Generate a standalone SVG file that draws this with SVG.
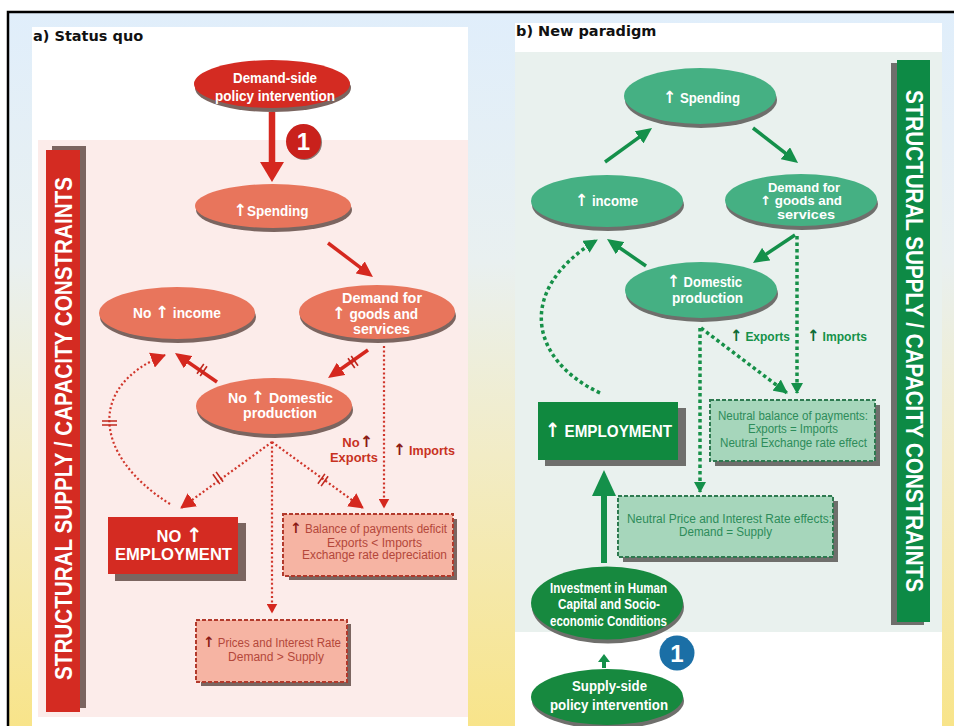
<svg xmlns="http://www.w3.org/2000/svg" width="954" height="726" viewBox="0 0 954 726">
<defs>
<linearGradient id="bg" x1="0" y1="0" x2="0" y2="1">
<stop offset="0" stop-color="#e0eefb"/>
<stop offset="0.35" stop-color="#e9f0f0"/>
<stop offset="0.62" stop-color="#f2ecc6"/>
<stop offset="1" stop-color="#f8e48a"/>
</linearGradient>
<marker id="mBigR" markerUnits="userSpaceOnUse" markerWidth="20" markerHeight="24" refX="2" refY="12" orient="auto"><path d="M0,0 L20,12 L0,24 z" fill="#d5281f"/></marker>
<marker id="mBigG" markerUnits="userSpaceOnUse" markerWidth="26" markerHeight="24" refX="2" refY="12" orient="auto"><path d="M0,0 L26,12 L0,24 z" fill="#14904a"/></marker>
<marker id="mSmG" markerUnits="userSpaceOnUse" markerWidth="8" markerHeight="12" refX="2" refY="6" orient="auto"><path d="M0,0 L8,6 L0,12 z" fill="#14904a"/></marker>
<marker id="mSR" markerUnits="userSpaceOnUse" markerWidth="16" markerHeight="15" refX="2" refY="7.5" orient="auto"><path d="M0,0 L16,7.5 L0,15 z" fill="#d5281f"/></marker>
<marker id="mSG" markerUnits="userSpaceOnUse" markerWidth="16" markerHeight="15" refX="2" refY="7.5" orient="auto"><path d="M0,0 L16,7.5 L0,15 z" fill="#14904a"/></marker>
<marker id="mDRb" markerUnits="userSpaceOnUse" markerWidth="15" markerHeight="16" refX="14" refY="8" orient="auto"><path d="M0,0 L15,8 L0,16 z" fill="#d5281f"/></marker>
<marker id="mDRs" markerUnits="userSpaceOnUse" markerWidth="10" markerHeight="11" refX="9.5" refY="5.5" orient="auto"><path d="M0,0 L10,5.5 L0,11 z" fill="#d5281f"/></marker>
<marker id="mDGb" markerUnits="userSpaceOnUse" markerWidth="14" markerHeight="14" refX="13" refY="7" orient="auto"><path d="M0,0 L14,7 L0,14 z" fill="#14904a"/></marker>
<marker id="mDGs" markerUnits="userSpaceOnUse" markerWidth="11" markerHeight="12" refX="10" refY="6" orient="auto"><path d="M0,0 L11,6 L0,12 z" fill="#14904a"/></marker>
</defs>
<style>
.nt{font-family:"Liberation Sans",Arial,sans-serif;font-weight:bold;font-size:14px;fill:#fff;text-anchor:middle}
.nt13{font-size:12.5px}
.et{font-family:"Liberation Sans",Arial,sans-serif;font-weight:bold;font-size:16.5px;fill:#fff;text-anchor:middle}
.bt{font-family:"Liberation Sans",Arial,sans-serif;font-size:12px;text-anchor:middle}
.rb{fill:#b4473a}
.gb{fill:#2d8c5a}
.lr{font-family:"Liberation Sans",Arial,sans-serif;font-weight:bold;font-size:13px;fill:#c8321f}
.lg{font-family:"Liberation Sans",Arial,sans-serif;font-weight:bold;font-size:13px;fill:#15924a}
.up{font-family:"DejaVu Sans",sans-serif;font-weight:bold;font-size:1.2em}
.ups{font-family:"DejaVu Sans",sans-serif;font-weight:bold;font-size:1em}
.ar{fill:#8b1a14}
.ag{fill:#0c6b35}
.title{font-family:"DejaVu Sans",Verdana,sans-serif;font-weight:bold;font-size:14.5px;fill:#111}
.vt{font-family:"Liberation Sans",Arial,sans-serif;font-weight:bold;font-size:23px;fill:#fff;text-anchor:middle}
.shL{fill:#7b6560}
.shR{fill:#6f6f6c}
.eR{fill:#e8755c}
.eRd{fill:#d42b22}
.eG{fill:#45b083}
.eGd{fill:#17893f}
.sr{stroke:#d5281f;stroke-width:3.5;fill:none}
.sg{stroke:#14904a;stroke-width:3.5;fill:none}
.dr{stroke:#d0362b;stroke-width:2.2;stroke-dasharray:2 2.4;fill:none}
.dg{stroke:#169048;stroke-width:3.5;stroke-dasharray:3.5 3;fill:none}
.hr{stroke:#c0281e;stroke-width:1.6;fill:none}
.boxR{fill:#f6b4a3;stroke:#b23a2c;stroke-width:2;stroke-dasharray:4 2}
.boxG{fill:#a6d6bb;stroke:#2e7a50;stroke-width:2;stroke-dasharray:4 2}
</style>

<!-- background -->
<rect x="0" y="0" width="954" height="726" fill="#fff"/>
<rect x="8" y="12" width="946" height="714" fill="url(#bg)"/>
<path d="M8,726 L8,12 L954,12" fill="none" stroke="#000" stroke-width="2.5"/>

<!-- left panel -->
<rect x="32" y="27" width="436" height="699" fill="#fff"/>
<rect x="38" y="140" width="430" height="577" fill="#fcecea"/>
<text class="title" x="33" y="40.5">a) Status quo</text>
<g id="constraintsLeft">
<rect x="52" y="146" width="34" height="562" fill="#7b6560"/>
<rect x="46" y="150" width="34" height="562" fill="#d42b22"/>
<text class="vt" transform="translate(71.5,428.5) rotate(-90)" textLength="503" lengthAdjust="spacingAndGlyphs">STRUCTURAL SUPPLY / CAPACITY CONSTRAINTS</text>
</g>

<!-- right panel -->
<rect x="515" y="23" width="427" height="703" fill="#fff"/>
<rect x="515" y="52" width="427" height="580" fill="#e9f1ee"/>
<text class="title" x="516" y="36">b) New paradigm</text>
<g id="constraintsRight">
<rect x="891" y="63" width="33" height="562" fill="#6f6f6c"/>
<rect x="897" y="60" width="33" height="562" fill="#0d8a45"/>
<text class="vt" transform="translate(905.5,341) rotate(90)" textLength="502" lengthAdjust="spacingAndGlyphs">STRUCTURAL SUPPLY / CAPACITY CONSTRAINTS</text>
</g>

<!-- connectors -->
<g id="connectors">
<!-- left -->
<line class="sr" x1="272" y1="112" x2="272" y2="164" style="stroke-width:6.5" marker-end="url(#mBigR)"/>
<line class="sr" x1="328" y1="243" x2="361.8" y2="268.6" marker-end="url(#mSR)"/>
<line class="sr" x1="368" y1="350" x2="339.5" y2="370" marker-end="url(#mSR)"/>
<line class="sr" x1="217" y1="382" x2="186.5" y2="361" marker-end="url(#mSR)"/>
<path class="dr" d="M170,504 C92,455 88,385 165,355" marker-end="url(#mDRb)"/>
<path class="dr" d="M272,442 L181,508" marker-end="url(#mDRb)"/>
<path class="dr" d="M272,442 L272,613" marker-end="url(#mDRs)"/>
<path class="dr" d="M272,442 L363,508" marker-end="url(#mDRb)"/>
<path class="dr" d="M384,346 L384,508" marker-end="url(#mDRs)"/>
<g class="hr">
<path d="M351.2,356 L358,365.8 M348,358.2 L354.8,368"/>
<path d="M200.2,376 L207,366.2 M197,373.8 L203.8,364"/>
<path d="M102,421 L117,421 M102,425 L117,425"/>
<path d="M216.1,471.9 L223.1,481.7 M212.9,474.3 L219.9,484.1"/>
<path d="M324.9,473.9 L317.9,483.7 M328.1,476.3 L321.1,486.1"/>
</g>
<!-- right -->
<line class="sg" x1="605" y1="162" x2="640.7" y2="136.2" marker-end="url(#mSG)"/>
<line class="sg" x1="753" y1="128" x2="787" y2="154.4" marker-end="url(#mSG)"/>
<line class="sg" x1="795" y1="235" x2="764.6" y2="255.2" marker-end="url(#mSG)"/>
<line class="sg" x1="646" y1="266" x2="618.5" y2="247" marker-end="url(#mSG)"/>
<path class="dg" d="M600,393 C530,360 515,290 597,240" marker-end="url(#mDGb)"/>
<path class="dg" d="M797,236 L797,393" marker-end="url(#mDGs)"/>
<path class="dg" d="M701,328 L787,393" marker-end="url(#mDGb)"/>
<path class="dg" d="M700,328 L700,492" marker-end="url(#mDGs)"/>
<line class="sg" x1="604" y1="563" x2="604" y2="494" style="stroke-width:6" marker-end="url(#mBigG)"/>
<line class="sg" x1="604" y1="668" x2="604" y2="660" style="stroke-width:4" marker-end="url(#mSmG)"/>
</g>

<!-- left nodes -->
<g id="demandSide">
<ellipse class="shL" cx="273" cy="88" rx="78" ry="24"/>
<ellipse class="eRd" cx="272" cy="84" rx="78" ry="24"/>
<text class="nt" x="275" y="83" textLength="84" lengthAdjust="spacingAndGlyphs">Demand-side</text>
<text class="nt" x="275" y="101" textLength="120" lengthAdjust="spacingAndGlyphs">policy intervention</text>
</g>
<g id="badge1Left">
<circle cx="304.5" cy="142.5" r="17.5" fill="#8a7a76"/>
<circle cx="303.5" cy="141.5" r="17.5" fill="#c9211c"/>
<text x="303.5" y="150" font-family="Liberation Sans, Arial, sans-serif" font-weight="bold" font-size="24" fill="#fff" text-anchor="middle">1</text>
</g>
<g id="spendingL">
<ellipse class="shL" cx="274" cy="210" rx="78" ry="22"/>
<ellipse class="eR" cx="273" cy="206" rx="78" ry="22"/>
<text class="nt" x="271" y="216" textLength="75" lengthAdjust="spacingAndGlyphs"><tspan class="up">↑</tspan>Spending</text>
</g>
<g id="noIncome">
<ellipse class="shL" cx="178" cy="317" rx="78" ry="26"/>
<ellipse class="eR" cx="177" cy="313" rx="78" ry="26"/>
<text class="nt" x="177" y="318" textLength="88" lengthAdjust="spacingAndGlyphs">No <tspan class="up">↑</tspan> income</text>
</g>
<g id="demandL">
<ellipse class="shL" cx="378" cy="316" rx="78" ry="27"/>
<ellipse class="eR" cx="377" cy="312" rx="78" ry="27"/>
<text class="nt" x="382" y="303" textLength="80" lengthAdjust="spacingAndGlyphs">Demand for</text>
<text class="nt" x="375" y="318.5" textLength="86" lengthAdjust="spacingAndGlyphs"><tspan class="up">↑</tspan> goods and</text>
<text class="nt" x="381.5" y="334" textLength="57" lengthAdjust="spacingAndGlyphs">services</text>
</g>
<g id="domesticL">
<ellipse class="shL" cx="275" cy="410" rx="78" ry="28"/>
<ellipse class="eR" cx="274" cy="406" rx="78" ry="28"/>
<text class="nt" x="280.5" y="402.5" textLength="105" lengthAdjust="spacingAndGlyphs">No <tspan class="up">↑</tspan> Domestic</text>
<text class="nt" x="280" y="418" textLength="74" lengthAdjust="spacingAndGlyphs">production</text>
</g>
<g id="noEmployment">
<rect x="115" y="523" width="131" height="58" fill="#7b6560"/>
<rect x="108" y="517" width="130" height="57" fill="#d42b22"/>
<text class="et" x="179.5" y="541.5">NO <tspan class="up">↑</tspan></text>
<text class="et" x="173.5" y="560" textLength="117" lengthAdjust="spacingAndGlyphs">EMPLOYMENT</text>
</g>
<g id="balanceDeficit">
<rect x="289" y="519" width="168" height="61" fill="#7b6560"/>
<rect class="boxR" x="283" y="514" width="170" height="62"/>
<text class="bt rb" x="368.5" y="533.3" textLength="157" lengthAdjust="spacingAndGlyphs"><tspan class="up ar">↑</tspan> Balance of payments deficit</text>
<text class="bt rb" x="374.5" y="546.7" textLength="95" lengthAdjust="spacingAndGlyphs">Exports &lt; Imports</text>
<text class="bt rb" x="374.5" y="559.3" textLength="145" lengthAdjust="spacingAndGlyphs">Exchange rate depreciation</text>
</g>
<g id="pricesL">
<rect x="201" y="624" width="150" height="62" fill="#7b6560"/>
<rect class="boxR" x="196" y="620" width="151" height="62"/>
<text class="bt rb" x="272" y="647.3" textLength="138" lengthAdjust="spacingAndGlyphs"><tspan class="up ar">↑</tspan> Prices and Interest Rate</text>
<text class="bt rb" x="276" y="660.7" textLength="96" lengthAdjust="spacingAndGlyphs">Demand &gt; Supply</text>
</g>
<g id="labelsL">
<text class="lr" x="357.5" y="447" text-anchor="middle">No<tspan class="up ar">↑</tspan></text>
<text class="lr" x="354" y="462" text-anchor="middle" textLength="48" lengthAdjust="spacingAndGlyphs">Exports</text>
<text class="lr" x="393" y="455" textLength="62" lengthAdjust="spacingAndGlyphs"><tspan class="up ar">↑</tspan> Imports</text>
</g>

<!-- right nodes -->
<g id="spendingR">
<ellipse class="shR" cx="701" cy="100" rx="76" ry="28"/>
<ellipse class="eG" cx="700" cy="96" rx="76" ry="28"/>
<text class="nt" x="701.5" y="103.3" textLength="77" lengthAdjust="spacingAndGlyphs"><tspan class="up">↑</tspan> Spending</text>
</g>
<g id="incomeR">
<ellipse class="shR" cx="608" cy="205" rx="76" ry="26"/>
<ellipse class="eG" cx="607" cy="201" rx="76" ry="26"/>
<text class="nt" x="606.5" y="206" textLength="63" lengthAdjust="spacingAndGlyphs"><tspan class="up">↑</tspan> income</text>
</g>
<g id="demandR">
<ellipse class="shR" cx="802" cy="204" rx="76" ry="26"/>
<ellipse class="eG" cx="801" cy="200" rx="76" ry="26"/>
<text class="nt nt13" x="804" y="191.5" textLength="72" lengthAdjust="spacingAndGlyphs">Demand for</text>
<text class="nt nt13" x="801" y="205" textLength="82" lengthAdjust="spacingAndGlyphs"><tspan class="ups">↑</tspan> goods and</text>
<text class="nt nt13" x="806" y="218.5" textLength="58" lengthAdjust="spacingAndGlyphs">services</text>
</g>
<g id="domesticR">
<ellipse class="shR" cx="702" cy="294" rx="76" ry="28"/>
<ellipse class="eG" cx="701" cy="290" rx="76" ry="28"/>
<text class="nt" x="704.5" y="287.3" textLength="75" lengthAdjust="spacingAndGlyphs"><tspan class="up">↑</tspan> Domestic</text>
<text class="nt" x="707.5" y="303.3" textLength="71" lengthAdjust="spacingAndGlyphs">production</text>
</g>
<g id="labelsR">
<text class="lg" x="730" y="340.5" textLength="60" lengthAdjust="spacingAndGlyphs"><tspan class="up ag">↑</tspan> Exports</text>
<text class="lg" x="807" y="340.5" textLength="60" lengthAdjust="spacingAndGlyphs"><tspan class="up ag">↑</tspan> Imports</text>
</g>
<g id="employmentR">
<rect x="545" y="408" width="141" height="58" fill="#6f6f6c"/>
<rect x="538" y="402" width="140" height="58" fill="#10893f"/>
<text class="et" x="608.5" y="436.5" textLength="127" lengthAdjust="spacingAndGlyphs"><tspan class="up">↑</tspan> EMPLOYMENT</text>
</g>
<g id="neutralBoP">
<rect x="715" y="405" width="165" height="61" fill="#6f6f6c"/>
<rect class="boxG" x="710" y="400" width="165" height="61"/>
<text class="bt gb" x="793" y="420" textLength="150" lengthAdjust="spacingAndGlyphs">Neutral balance of payments:</text>
<text class="bt gb" x="793" y="433.3" textLength="90" lengthAdjust="spacingAndGlyphs">Exports = Imports</text>
<text class="bt gb" x="793.5" y="446.7" textLength="147" lengthAdjust="spacingAndGlyphs">Neutral Exchange rate effect</text>
</g>
<g id="neutralPrice">
<rect x="623" y="501" width="215" height="61" fill="#6f6f6c"/>
<rect class="boxG" x="618" y="496" width="215" height="61"/>
<text class="bt gb" x="729.5" y="522.7" textLength="205" lengthAdjust="spacingAndGlyphs">Neutral Price and Interest Rate effects:</text>
<text class="bt gb" x="725.5" y="536" textLength="93" lengthAdjust="spacingAndGlyphs">Demand = Supply</text>
</g>
<g id="investment">
<ellipse class="shR" cx="608" cy="607" rx="76" ry="36.5"/>
<ellipse class="eGd" cx="607" cy="603" rx="76" ry="36.5"/>
<text class="nt" x="608.5" y="592.7" textLength="117" lengthAdjust="spacingAndGlyphs">Investment in Human</text>
<text class="nt" x="609" y="609.3" textLength="102" lengthAdjust="spacingAndGlyphs">Capital and Socio-</text>
<text class="nt" x="608.5" y="625.5" textLength="117" lengthAdjust="spacingAndGlyphs">economic Conditions</text>
</g>
<g id="badge1Right">
<circle cx="677" cy="653" r="17.5" fill="#1b6fa6"/>
<text x="677" y="661.5" font-family="Liberation Sans, Arial, sans-serif" font-weight="bold" font-size="24" fill="#fff" text-anchor="middle">1</text>
</g>
<g id="supplySide">
<ellipse class="shR" cx="608" cy="701" rx="76" ry="28"/>
<ellipse class="eGd" cx="607" cy="697" rx="76" ry="28"/>
<text class="nt" x="609.5" y="690.7" textLength="75" lengthAdjust="spacingAndGlyphs">Supply-side</text>
<text class="nt" x="609" y="710" textLength="118" lengthAdjust="spacingAndGlyphs">policy intervention</text>
</g>
</svg>
